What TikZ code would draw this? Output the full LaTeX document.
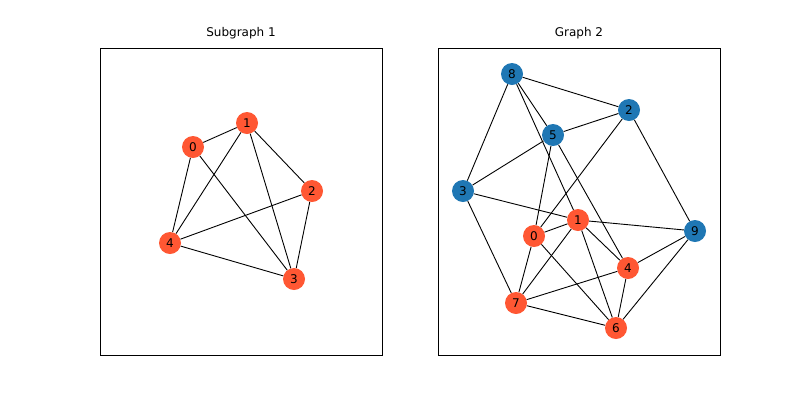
\documentclass[tikz,border=0pt]{standalone}
\usepackage{fontspec}
\setmainfont{DejaVu Sans}
\begin{document}
\begin{tikzpicture}[x=1pt,y=-1pt,
  nd/.style={circle,minimum size=22pt,inner sep=0pt,font=\fontsize{12}{12}\selectfont},
  rn/.style={nd,fill={rgb,255:red,255;green,87;blue,51}},
  bn/.style={nd,fill={rgb,255:red,31;green,119;blue,180}},
  ed/.style={black,line width=0.9pt}]
\useasboundingbox (0,0) rectangle (800,400);
\draw[line width=0.7pt] (100,48) rectangle (382,355);
\draw[line width=0.7pt] (438,48) rectangle (720,355);
\node[font=\fontsize{12}{12}\selectfont] (t1) at (241,33) {Subgraph 1};
\node[font=\fontsize{12}{12}\selectfont] (t2) at (579,33) {Graph 2};
% graph 1
\node[rn] (a0) at (193,147) {0};
\node[rn] (a1) at (247,123) {1};
\node[rn] (a2) at (312,191) {2};
\node[rn] (a4) at (170,243) {4};
\node[rn] (a3) at (294,279) {3};
\begin{scope}[on background layer/.style={}]
\end{scope}
\foreach \u/\v in {a0/a1,a0/a4,a0/a3,a1/a4,a1/a2,a1/a3,a2/a4,a2/a3,a4/a3}
  \draw[ed] (\u) -- (\v);
% graph 2
\node[bn] (b8) at (512,74) {8};
\node[bn] (b2) at (629,110) {2};
\node[bn] (b5) at (553,135) {5};
\node[bn] (b3) at (463,191) {3};
\node[rn] (b1) at (578,220) {1};
\node[rn] (b0) at (534,236) {0};
\node[bn] (b9) at (695,231) {9};
\node[rn] (b4) at (628,268) {4};
\node[rn] (b7) at (516,303) {7};
\node[rn] (b6) at (616,328) {6};
\foreach \u/\v in {b8/b2,b8/b3,b8/b5,b8/b1,b5/b2,b5/b3,b5/b0,b5/b4,b2/b0,b2/b9,b3/b1,b3/b7,b1/b0,b1/b9,b1/b7,b1/b4,b1/b6,b0/b7,b0/b6,b9/b4,b9/b6,b4/b7,b4/b6,b7/b6}
  \draw[ed] (\u) -- (\v);
\end{tikzpicture}
\end{document}
